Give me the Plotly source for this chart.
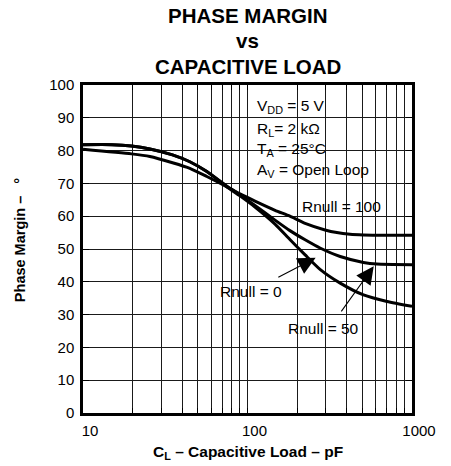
import plotly.graph_objects as go

# ---------------- data ----------------
cap_pf_100 = [10, 19.7, 25.5, 35, 44.6, 56.6, 74.7, 90, 111, 147, 181, 224, 296, 349, 420, 507, 700, 1000]
pm_100 = [80.4, 79.0, 78.2, 76.3, 74.6, 72.1, 69.0, 66.8, 64.6, 61.8, 60.0, 57.8, 55.8, 55.0, 54.5, 54.3, 54.2, 54.2]

cap_pf_50 = [10, 15, 19.7, 25.5, 35, 44.6, 56.6, 74.7, 90, 111, 147, 181, 224, 276, 366, 507, 612, 1000]
pm_50 = [81.8, 81.8, 81.4, 80.5, 78.7, 76.6, 73.6, 69.2, 66.5, 63.3, 58.8, 55.6, 52.8, 50.3, 47.7, 45.9, 45.4, 45.2]

cap_pf_0 = [10, 15, 19.7, 25.5, 35, 44.6, 56.6, 74.7, 90, 111, 147, 181, 224, 276, 366, 507, 705, 1000]
pm_0 = [81.8, 81.8, 81.4, 80.5, 78.7, 76.6, 73.6, 69.0, 66.2, 62.8, 57.6, 52.9, 48.2, 43.8, 39.6, 36.0, 34.0, 32.5]

series_names = ["Rnull = 100", "Rnull = 50", "Rnull = 0"]

x_major_ticks = [10, 100, 1000]
x_major_text = ["10", "100", "1000"]
x_minor_ticks = [20, 30, 40, 50, 60, 70, 80, 90, 200, 300, 400, 500, 600, 700, 800, 900]
y_tick_vals = [0, 10, 20, 30, 40, 50, 60, 70, 80, 90, 100]

title_lines = ["PHASE MARGIN", "vs", "CAPACITIVE LOAD"]
cond_lines = ["V<sub>DD</sub> = 5 V", "R<sub>L</sub>= 2 kΩ", "T<sub>A</sub> = 25°C", "A<sub>V</sub> = Open Loop"]

# ---------------- layout helpers ----------------
W, H = 451, 466
L, R, T, B = 83.3, 411.7, 85.0, 413.3
FONT = "Liberation Sans, Arial, Helvetica, sans-serif"
GRID = "#1a1a1a"


def pxx(xp):
    return (xp - L) / (R - L)


def pxy(yp):
    return (B - yp) / (B - T)


fig = go.Figure()
for xs, ys, nm in [(cap_pf_100, pm_100, series_names[0]),
                   (cap_pf_50, pm_50, series_names[1]),
                   (cap_pf_0, pm_0, series_names[2])]:
    fig.add_trace(go.Scatter(x=xs, y=ys, mode="lines", name=nm,
                             line=dict(color="black", width=3, shape="spline", smoothing=0.6),
                             showlegend=False, hoverinfo="skip"))

# white boxes behind labels (cover gridlines)
boxes = [(244, 86.5, 403, 181), (297, 190, 403, 217.5), (204, 277, 302, 305), (272, 313, 393, 340)]
shapes = []
for x0, y0, x1, y1 in boxes:
    shapes.append(dict(type="rect", xref="paper", yref="paper",
                       x0=pxx(x0), x1=pxx(x1), y0=pxy(y1), y1=pxy(y0),
                       fillcolor="white", line=dict(width=0), layer="between"))

ann = []
# title
for txt, yc in [(title_lines[0], 15), (title_lines[1], 40), (title_lines[2], 66)]:
    ann.append(dict(text="<b>%s</b>" % txt, xref="paper", yref="paper", x=pxx(247.5), y=pxy(yc),
                    xanchor="center", yanchor="middle", showarrow=False,
                    font=dict(family=FONT, size=20.5, color="black")))
# conditions
for txt, yc in zip(cond_lines, [107, 129.5, 150, 171]):
    ann.append(dict(text=txt, xref="paper", yref="paper", x=pxx(255), y=pxy(yc),
                    xanchor="left", yanchor="middle", showarrow=False,
                    font=dict(family=FONT, size=15.5, color="black")))
# curve labels
for txt, xc, yc in [(series_names[0], 341, 206.5), (series_names[2], 251, 292), (series_names[1], 323, 328.5)]:
    ann.append(dict(text=txt, xref="paper", yref="paper", x=pxx(xc), y=pxy(yc),
                    xanchor="center", yanchor="middle", showarrow=False,
                    font=dict(family=FONT, size=15.5, color="black")))
# arrows
for tail, tip in [((276.7, 278.3), (315.5, 258)), ((340, 313), (373.5, 266.5))]:
    ann.append(dict(text="", xref="paper", yref="paper", x=pxx(tip[0]), y=pxy(tip[1]),
                    ax=tail[0] - tip[0], ay=tail[1] - tip[1], axref="pixel", ayref="pixel",
                    showarrow=True, arrowhead=2, arrowsize=3.2, arrowwidth=1.1, arrowcolor="black",
                    standoff=0))
# axis titles
ann.append(dict(text="<b>C<sub>L</sub> – Capacitive Load – pF</b>", xref="paper", yref="paper",
                x=pxx(248.3), y=pxy(453), xanchor="center", yanchor="middle", showarrow=False,
                font=dict(family=FONT, size=15.5, color="black")))
ann.append(dict(text="<b>Phase Margin –\u00a0\u00a0\u00a0°</b>", xref="paper", yref="paper",
                x=pxx(20.7), y=pxy(240), xanchor="center", yanchor="middle", showarrow=False,
                textangle=-90, font=dict(family=FONT, size=14.5, color="black")))

fig.update_layout(
    width=W, height=H,
    margin=dict(l=L, r=W - R, t=T, b=H - B),
    paper_bgcolor="white", plot_bgcolor="white",
    shapes=shapes, annotations=ann,
    font=dict(family=FONT, size=15, color="black"),
)
fig.update_xaxes(type="log", range=[1, 3], tickvals=x_major_ticks, ticktext=x_major_text,
                 showgrid=True, gridcolor=GRID, gridwidth=1,
                 ticks="inside", ticklen=5, tickwidth=1, tickcolor="black",
                 minor=dict(tickvals=x_minor_ticks, ticks="inside", ticklen=5, tickwidth=1,
                            tickcolor="black", showgrid=True, gridcolor=GRID, gridwidth=1),
                 showline=True, linecolor="black", linewidth=2.5, mirror="ticks",
                 ticklabelshift=7, ticklabelstandoff=2,
                 tickfont=dict(family=FONT, size=15, color="black"), zeroline=False)
fig.update_yaxes(range=[0, 100], tickvals=y_tick_vals,
                 showgrid=True, gridcolor=GRID, gridwidth=1,
                 ticks="inside", ticklen=6, tickwidth=1, tickcolor="black",
                 showline=True, linecolor="black", linewidth=2.5, mirror="ticks",
                 ticklabelstandoff=3,
                 tickfont=dict(family=FONT, size=15, color="black"), zeroline=False)

fig.write_html("out.html", config={"displayModeBar": False},
               post_script="document.body.style.margin='0';document.body.style.padding='0';")
